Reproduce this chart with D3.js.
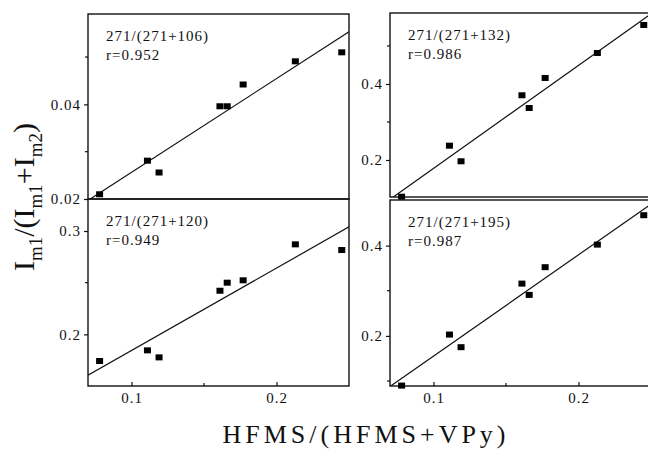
<!DOCTYPE html>
<html>
<head>
<meta charset="utf-8">
<script src="https://cdn.jsdelivr.net/npm/d3@7"></script>
<style>
  html, body { margin: 0; padding: 0; background: #fff; }
  svg { display: block; }
  text { font-family: "Liberation Serif", "DejaVu Serif", serif; fill: #111; }
</style>
</head>
<body>
<svg id="chart" width="648" height="450"></svg>
<script>
// HFMS fraction of each sample (shared x values)
const hfmsFraction = [0.078, 0.111, 0.119, 0.161, 0.166, 0.177, 0.213, 0.245];

// Intensity ratios I_m1/(I_m1+I_m2) for each ion pair
const ratio106 = [0.0210, 0.0281, 0.0256, 0.0396, 0.0396, 0.0442, 0.0491, 0.0510];
const ratio132 = [0.1034, 0.2376, 0.1966, 0.3703, 0.3368, 0.4158, 0.4816, 0.5553];
const ratio120 = [0.1742, 0.1845, 0.1777, 0.2422, 0.2500, 0.2523, 0.2871, 0.2816];
const ratio195 = [0.0899, 0.2029, 0.1750, 0.3158, 0.2908, 0.3522, 0.4022, 0.4673];

// Panel titles and correlation coefficients
const pairLabels = ["271/(271+106)", "271/(271+132)", "271/(271+120)", "271/(271+195)"];
const rLabels = ["r=0.952", "r=0.986", "r=0.949", "r=0.987"];

// Axis ticks
const xMajorTicks = [0.1, 0.2];
const xMinorTicks = [0.15];
const xDomain = [0.07, 0.25];
const yDomains = [[0.02, 0.0591], [0.1026, 0.5868], [0.15, 0.331], [0.089, 0.501]];
const yMajorTicks = [[0.02, 0.04], [0.2, 0.4], [0.2, 0.3], [0.2, 0.4]];
const yMinorTicks = [[0.03, 0.05], [0.3, 0.5], [0.25], [0.1, 0.3]];
const yFormats = [".2f", ".1f", ".1f", ".1f"];

const series = [ratio106, ratio132, ratio120, ratio195];

// Panel frames in pixels: left, right, top, bottom
const frames = [
  { l: 88, r: 349, t: 14, b: 199, xLabels: false },
  { l: 390, r: 651, t: 13, b: 197, xLabels: false },
  { l: 88, r: 349, t: 199, b: 386, xLabels: true },
  { l: 390, r: 651, t: 200, b: 386, xLabels: true }
];

const svg = d3.select("#chart");

function linearFit(xs, ys) {
  const mx = d3.mean(xs), my = d3.mean(ys);
  let sxy = 0, sxx = 0;
  xs.forEach((x, i) => { sxy += (x - mx) * (ys[i] - my); sxx += (x - mx) * (x - mx); });
  const slope = sxy / sxx;
  return { slope, intercept: my - slope * mx };
}

frames.forEach((f, i) => {
  const x = d3.scaleLinear().domain(xDomain).range([f.l, f.r]);
  const y = d3.scaleLinear().domain(yDomains[i]).range([f.b, f.t]);
  const g = svg.append("g");

  const clipId = "clip" + i;
  svg.append("clipPath").attr("id", clipId)
    .append("rect").attr("x", f.l).attr("y", f.t).attr("width", f.r - f.l).attr("height", f.b - f.t);

  // fitted line
  const fit = linearFit(hfmsFraction, series[i]);
  g.append("line")
    .attr("clip-path", `url(#${clipId})`)
    .attr("x1", x(xDomain[0])).attr("y1", y(fit.intercept + fit.slope * xDomain[0]))
    .attr("x2", x(xDomain[1])).attr("y2", y(fit.intercept + fit.slope * xDomain[1]))
    .attr("stroke", "#111").attr("stroke-width", 1.2);

  // y axis (outward ticks)
  const yAxis = d3.axisLeft(y).tickValues(yMajorTicks[i]).tickSize(4).tickPadding(3)
    .tickFormat(d3.format(yFormats[i]));
  const ya = g.append("g").attr("transform", `translate(${f.l},0)`).call(yAxis);
  ya.select(".domain").remove();
  ya.selectAll("text").style("font-size", "15px").style("letter-spacing", "1px")
    .style("font-family", "'Liberation Serif', serif");
  ya.selectAll("line").attr("stroke", "#111").attr("stroke-width", 1.2);
  g.append("g").selectAll("line").data(yMinorTicks[i]).join("line")
    .attr("x1", f.l - 3).attr("x2", f.l)
    .attr("y1", d => y(d)).attr("y2", d => y(d))
    .attr("stroke", "#111").attr("stroke-width", 1.2);

  // x axis on bottom panels (inward ticks)
  if (f.xLabels) {
    const xa = g.append("g").attr("transform", `translate(0,${f.b})`)
      .call(d3.axisBottom(x).tickValues(xMajorTicks).tickSize(-4).tickPadding(6)
        .tickFormat(d3.format(".1f")));
    xa.select(".domain").remove();
    xa.selectAll("text").style("font-size", "15px").style("letter-spacing", "1px")
      .style("font-family", "'Liberation Serif', serif");
    xa.selectAll("line").attr("stroke", "#111").attr("stroke-width", 1.2);
    g.append("g").selectAll("line").data(xMinorTicks).join("line")
      .attr("x1", d => x(d)).attr("x2", d => x(d))
      .attr("y1", f.b - 3).attr("y2", f.b)
      .attr("stroke", "#111").attr("stroke-width", 1.2);
  }

  // frame
  g.append("rect")
    .attr("x", f.l).attr("y", f.t).attr("width", f.r - f.l).attr("height", f.b - f.t)
    .attr("fill", "none").attr("stroke", "#111").attr("stroke-width", 1.4);

  // data squares
  g.append("g").selectAll("rect").data(hfmsFraction).join("rect")
    .attr("x", d => x(d) - 3.5)
    .attr("y", (d, j) => y(series[i][j]) - 3)
    .attr("width", 7).attr("height", 6)
    .attr("fill", "#000");

  // annotation
  const ann = g.append("text").attr("x", f.l + 18).attr("y", f.t + 27)
    .style("font-size", "15px").style("letter-spacing", "1px");
  ann.append("tspan").attr("x", f.l + 18).text(pairLabels[i]);
  ann.append("tspan").attr("x", f.l + 18).attr("dy", 18.5).text(rLabels[i]);
});

// y axis title: I_m1/(I_m1+I_m2)
const yt = svg.append("text")
  .attr("transform", "translate(34,197) rotate(-90)")
  .attr("text-anchor", "middle")
  .style("font-size", "30px");
const parts = [["I", false], ["m1", true], ["/(I", false], ["m1", true], ["+I", false], ["m2", true], [")", false]];
parts.forEach(([t, sub], k) => {
  const prevSub = k > 0 && parts[k - 1][1];
  const ts = yt.append("tspan").text(t);
  if (sub) ts.attr("dy", 8).style("font-size", "19px");
  else if (prevSub) ts.attr("dy", -8);
});

// x axis title
svg.append("text")
  .attr("x", 366).attr("y", 443)
  .attr("text-anchor", "middle")
  .style("font-size", "26px").style("letter-spacing", "4px")
  .text("HFMS/(HFMS+VPy)");
</script>
</body>
</html>
